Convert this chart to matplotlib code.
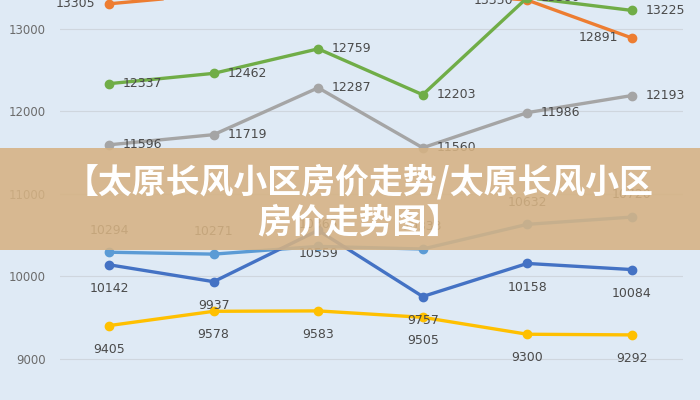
import matplotlib
matplotlib.use("Agg")
import matplotlib.pyplot as plt
from matplotlib.patches import Rectangle

# ---- data ----
x_idx = [0, 1, 2, 3, 4, 5]
orange = [13305, 13420, 13500, 13450, 13350, 12891]
green = [12337, 12462, 12759, 12203, 13380, 13225]
gray = [11596, 11719, 12287, 11560, 11986, 12193]
lightblue = [10294, 10271, 10365, 10333, 10632, 10720]
darkblue = [10142, 9937, 10559, 9757, 10158, 10084]
yellow = [9405, 9578, 9583, 9505, 9300, 9292]
yticks = [9000, 10000, 11000, 12000, 13000]
title_text = "【太原长风小区房价走势/太原长风小区\n房价走势图】"

plt.rcParams['font.family'] = ['DejaVu Sans']

bg = '#dfeaf5'
fig = plt.figure(figsize=(7, 4), dpi=100, facecolor=bg)
ax = fig.add_axes([60/700, 0, 623/700, 1])
ax.set_facecolor(bg)
ax.set_xlim(-0.47, 5.49)
ax.set_ylim(8503, 13351)
for s in ax.spines.values():
    s.set_visible(False)
ax.set_yticks(yticks)
ax.set_yticklabels([str(v) for v in yticks], color='#6b6b6b', fontsize=8.5)
ax.tick_params(axis='y', length=0, pad=10)
ax.set_xticks([])
ax.grid(axis='y', color='#cfd6de', linewidth=0.8)
ax.set_axisbelow(True)

series = [
    (orange, '#ed7d31', 'left'),
    (green, '#70ad47', 'right'),
    (gray, '#a5a5a5', 'right'),
    (lightblue, '#5b9bd5', 'above'),
    (darkblue, '#4472c4', 'below'),
    (yellow, '#ffc000', 'below'),
]
for vals, col, pos in series:
    ax.plot(x_idx, vals, color=col, lw=2.4, marker='o', ms=6, clip_on=False, zorder=3)
    for xi, v in zip(x_idx, vals):
        if pos == 'left':
            off, ha, va = (-10, 0), 'right', 'center'
        elif pos == 'right':
            off, ha, va = (10, 0), 'left', 'center'
        elif pos == 'above':
            off, ha, va = (0, 16), 'center', 'center'
        else:
            off, ha, va = (0, -17), 'center', 'center'
        ax.annotate(str(v), (xi, v), xytext=off, textcoords='offset points',
                    ha=ha, va=va, fontsize=9, color='#4a4a4a', zorder=4,
                    annotation_clip=False)

# banner
fig.patches.append(Rectangle((0, 1 - 250/400), 1, 102/400, transform=fig.transFigure,
                             facecolor='#d6b283', alpha=0.88, edgecolor='none', zorder=10))
fig.text(359/700, 1 - 201.5/400, title_text, ha='center', va='center', color='white',
         fontsize=24.4, fontweight='heavy', linespacing=1.2,
         family=['Noto Sans CJK SC', 'DejaVu Sans'], zorder=11)

fig.savefig('out.png', dpi=100, facecolor=bg)
